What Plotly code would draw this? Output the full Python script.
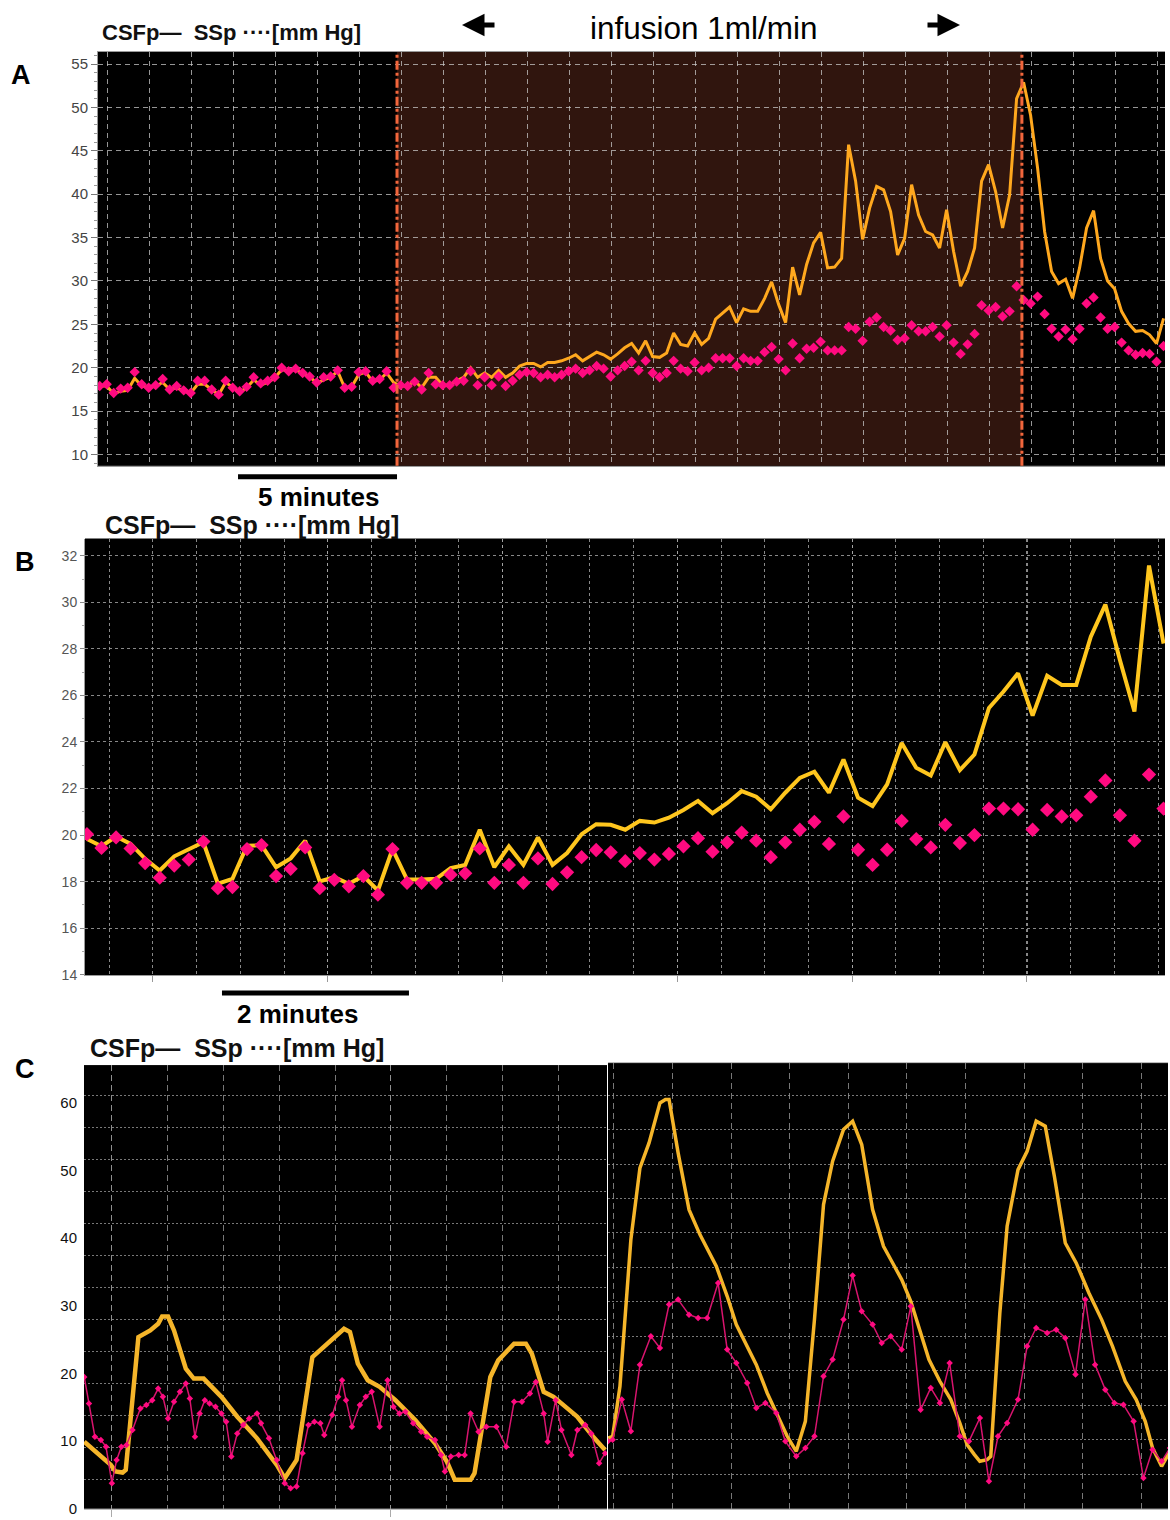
import numpy as np
import plotly.graph_objects as go

# ---------------- Panel A: recording with constant-rate infusion ----------------
A_SAMPLE_MIN = 0.2201          # minutes between stored samples
A_CSFP = [17.9, 17.9, 17.0, 17.3, 17.4, 18.8, 17.9, 17.7, 17.9, 18.3,
          17.5, 17.7, 17.3, 17.1, 18.1, 18.1, 17.5, 16.9, 18.3, 17.7,
          17.2, 17.7, 18.6, 18.0, 18.3, 18.8, 19.8, 19.6, 19.8, 19.3,
          19.0, 18.2, 18.6, 18.9, 19.6, 17.7, 17.8, 19.2, 19.5, 18.4,
          18.6, 19.4, 18.3,
          17.9, 17.9, 18.5, 17.7, 18.9, 18.9, 18.0, 18.0, 18.5, 18.9,
          20.0, 18.9, 19.4, 18.9, 19.7, 18.9, 19.4, 20.2, 20.5, 20.5,
          20.1, 20.6, 20.6, 20.8, 21.1, 21.5, 20.8, 21.3, 21.8, 21.5,
          21.0, 21.6, 22.3, 22.8, 21.7, 23.1, 21.3, 21.2, 21.7, 24.0,
          22.7, 22.5, 24.0, 22.7, 23.4, 25.6, 26.3, 27.0, 25.2, 26.8,
          26.5, 26.5, 28.0, 29.9, 27.3,
          25.2, 31.6, 28.4, 31.9, 34.4, 35.6, 31.5, 31.6, 32.6, 45.7,
          41.5, 34.8, 38.4, 40.9, 40.5, 38.0, 33.0, 34.9, 41.1, 37.6,
          35.7, 35.3, 33.8, 38.2, 33.4, 29.4, 31.1, 33.8, 41.5, 43.4,
          40.3, 36.1, 39.9, 51.0, 52.9, 49.1, 43.0, 35.7, 31.1, 29.7,
          30.2, 28.0, 31.5, 36.1, 38.1, 32.6, 30.0, 29.1, 26.5, 25.1,
          24.2, 24.3, 23.8, 22.8, 25.7]
A_SSP = [17.9, 18.1, 17.1, 17.6, 17.7, 19.5, 18.1, 17.7, 18.0, 18.7,
         17.5, 17.9, 17.4, 17.1, 18.5, 18.5, 17.5, 16.9, 18.5, 17.7,
         17.3, 17.8, 18.9, 18.2, 18.5, 18.9, 20.0, 19.6, 19.9, 19.4,
         19.0, 18.3, 18.9, 19.0, 19.7, 17.7, 17.8, 19.5, 19.6, 18.5,
         18.7, 19.6, 17.7,
         18.0, 17.9, 18.4, 17.5, 19.4, 18.1, 18.0, 18.0, 18.4, 18.5,
         19.6, 18.0, 18.9, 18.0, 19.0, 17.9, 18.5, 19.2, 19.5, 19.4,
         18.9, 19.2, 18.9, 19.2, 19.6, 19.9, 19.4, 19.7, 20.2, 19.9,
         19.0, 19.7, 20.2, 20.7, 19.7, 20.8, 19.4, 18.9, 19.4, 20.8,
         19.9, 19.6, 20.6, 19.7, 20.0, 21.1, 21.1, 21.1, 20.2, 21.1,
         20.8, 20.8, 21.8, 22.4, 21.0,
         19.7, 22.8, 21.1, 22.2, 22.3, 23.0, 22.0, 22.0, 22.0, 24.7,
         24.5, 23.1, 25.3, 25.8, 24.7, 24.3, 23.2, 23.4, 24.9, 24.2,
         24.2, 24.7, 23.6, 24.9, 22.9, 21.6, 22.7, 23.9, 27.2, 26.6,
         27.0, 25.9, 26.5, 29.4, 27.8, 27.4, 28.2, 26.2, 24.5, 23.6,
         24.4, 23.3, 24.5, 27.4, 28.1, 25.8, 24.5, 24.7, 22.9, 22.0,
         21.5, 21.7, 21.6, 20.7, 22.5]
A_INFUSION_START = 9.35        # min
A_INFUSION_END = 29.0          # min
A_SCALE_MIN = 5                # length of the scale bar, min

# ---------------- Panel B: early part of the infusion, zoomed ----------------
B_SAMPLE_MIN = 0.1556
B_CSFP = [19.83, 19.52, 19.94, 19.62, 18.98, 18.48, 19.09, 19.40, 19.69, 17.91,
          18.12, 19.54, 19.57, 18.62, 19.00, 19.76, 18.01, 18.19, 17.91, 18.24,
          17.62, 19.40, 18.09, 18.09, 18.12, 18.58, 18.72, 20.23, 18.62, 19.52,
          18.72, 19.90, 18.72, 19.23, 20.04, 20.47, 20.44, 20.23,
          20.61, 20.54, 20.75, 21.08, 21.47, 20.94, 21.37, 21.89, 21.65, 21.11,
          21.82, 22.46, 22.72, 21.82, 23.25, 21.61, 21.25, 22.18, 23.96, 22.89,
          22.56, 23.99, 22.79, 23.46, 25.46, 26.17, 26.95, 25.13, 26.84, 26.45,
          26.45, 28.52, 29.90, 27.52, 25.31, 31.58, 28.23]
B_SSP = [20.04, 19.45, 19.90, 19.43, 18.80, 18.17, 18.69, 18.95, 19.72, 17.72,
         17.77, 19.40, 19.57, 18.24, 18.55, 19.47, 17.72, 18.08, 17.80, 18.24,
         17.44, 19.40, 17.95, 17.95, 17.95, 18.30, 18.36, 19.43, 17.95, 18.72,
         17.95, 19.00, 17.90, 18.40, 19.05, 19.36, 19.26, 18.88,
         19.23, 18.95, 19.19, 19.52, 19.87, 19.29, 19.69, 20.11, 19.76, 19.05,
         19.69, 20.23, 20.57, 19.62, 20.80, 19.37, 18.72, 19.37, 20.61, 19.83,
         19.47, 20.44, 19.66, 20.00, 21.14, 21.14, 21.11, 20.23, 21.08, 20.80,
         20.85, 21.65, 22.35, 20.85, 19.76, 22.60, 21.14]
B_SCALE_START = 1.444          # min
B_SCALE_MIN = 2

# ---------------- Panel C: slow waves, two excerpts ----------------
C_LEFT_T_CSFP = [5.04, 7.66, 9.79, 10.64, 11.91, 12.48, 14.75, 16.87, 18.29, 19.0,
                 20.06, 21.13, 23.25, 24.67, 26.44, 29.63, 32.47, 36.01, 39.55, 40.97,
                 43.1, 45.93, 46.64, 48.77, 50.89, 51.6, 52.66, 54.08, 55.85, 57.98,
                 60.82, 64.36, 67.9, 70.03, 71.45, 74.28, 74.99, 77.82, 79.24, 81.37,
                 82.08, 84.2, 85.26, 87.39, 89.16, 92.0, 93.42, 96.25, 98.38]
C_LEFT_CSFP = [9.92, 7.95, 6.48, 5.5, 5.35, 5.74, 25.38, 26.36, 27.34, 28.42,
               28.42, 26.36, 20.72, 19.24, 19.24, 16.54, 13.6, 10.41, 6.48, 4.52,
               7.22, 22.43, 22.93, 24.64, 26.12, 26.61, 26.12, 21.45, 19.0, 18.02,
               16.05, 13.11, 9.67, 6.97, 4.27, 4.27, 5.25, 19.49, 21.94, 23.91,
               24.4, 24.4, 22.93, 17.28, 16.54, 14.58, 13.6, 10.65, 8.69]
C_LEFT_T_SSP = [5.04, 5.89, 6.95, 8.02, 8.94, 10.0, 10.85, 11.70, 12.62, 13.69,
                15.10, 16.17, 17.23, 18.29, 19.14, 20.06, 21.13, 22.19, 23.25, 23.96,
                24.88, 25.73, 26.65, 27.5, 28.57, 29.63, 30.48, 31.4, 32.47, 33.53,
                34.59, 36.01, 36.72, 38.14, 39.55, 40.97, 42.03, 43.1, 44.16, 45.22,
                46.29, 47.35, 48.06, 49.48, 50.54, 51.25, 51.96, 53.02, 54.44, 55.5,
                56.56, 57.98, 59.4, 60.46, 61.52, 62.59, 64.0, 65.42, 66.48, 67.9,
                68.97, 69.67, 70.74, 72.15, 73.22, 74.28, 75.7, 77.11, 78.89, 80.66,
                82.08, 83.49, 84.91, 85.97, 87.39, 88.1, 89.52, 90.58, 92.35, 93.42,
                94.83, 95.9, 97.32, 98.38]
C_LEFT_SSP = [19.49, 15.56, 10.65, 10.16, 9.18, 3.78, 7.22, 9.18, 9.43, 11.63,
              14.83, 15.32, 16.05, 17.77, 16.54, 13.35, 15.81, 17.28, 18.51, 16.3,
              10.65, 14.09, 16.05, 15.56, 15.07, 14.09, 12.86, 7.71, 11.14, 12.37,
              13.35, 14.09, 12.62, 10.41, 7.22, 3.78, 3.04, 3.29, 8.2, 12.37,
              12.86, 12.62, 10.9, 13.84, 16.54, 19.0, 16.05, 12.13, 15.32, 16.54,
              17.28, 12.13, 19.0, 15.07, 14.09, 14.33, 12.62, 11.39, 10.65, 10.16,
              7.95, 5.5, 7.71, 7.95, 7.95, 14.09, 11.39, 12.13, 12.13, 9.18,
              15.81, 15.81, 17.03, 18.75, 14.09, 9.92, 16.05, 11.63, 7.95, 11.63,
              12.37, 11.14, 6.73, 8.2]
C_RIGHT_T_CSFP = [-0.99, -0.19, 1.05, 2.91, 4.46, 6.01, 7.87, 8.8, 9.42, 10.97,
                  12.83, 14.69, 17.48, 19.34, 20.89, 22.44, 24.3, 26.16, 28.02, 29.57,
                  31.12, 32.67, 34.22, 35.77, 37.32, 39.18, 40.73, 42.28, 44.14, 46.0,
                  47.86, 49.1, 50.65, 52.2, 53.75, 55.61, 57.47, 59.02, 60.26, 61.5,
                  62.43, 63.67, 64.29, 65.84, 67.08, 68.94, 70.49, 72.04, 73.59, 75.14,
                  77.0, 78.86, 81.03, 83.2, 85.06, 87.23, 89.09, 90.64, 91.88, 93.43,
                  94.85]
C_RIGHT_CSFP = [10.41, 10.66, 18.02, 39.61, 50.17, 53.85, 59.74, 60.23, 60.23, 52.38,
                44.03, 40.35, 35.69, 31.27, 27.1, 24.4, 21.21, 17.04, 13.6, 10.66,
                8.45, 12.87, 27.84, 44.77, 51.16, 55.82, 57.05, 53.61, 44.03, 38.63,
                35.69, 33.73, 30.54, 26.36, 21.95, 18.76, 16.06, 12.62, 9.43, 7.96,
                6.98, 7.22, 7.71, 28.82, 41.58, 49.92, 52.62, 57.05, 56.31, 48.94,
                39.12, 36.18, 31.76, 27.84, 23.91, 18.76, 16.06, 12.87, 8.94, 6.24,
                8.45]
C_RIGHT_T_SSP = [-0.99, -0.19, 1.36, 2.91, 4.46, 6.32, 7.87, 9.42, 10.97, 12.83,
                 14.38, 15.93, 17.79, 19.34, 20.89, 22.75, 24.3, 25.85, 27.71, 29.26,
                 31.12, 32.67, 34.22, 35.77, 37.32, 39.18, 40.73, 42.28, 44.14, 45.69,
                 47.24, 49.1, 50.65, 52.33, 54.06, 55.61, 57.28, 59.02, 60.57, 62.43,
                 63.98, 65.53, 67.08, 68.94, 70.49, 72.04, 73.9, 75.45, 77.0, 78.74,
                 80.41, 82.08, 83.82, 85.37, 86.92, 88.66, 90.33, 91.88, 93.43, 94.85]
C_RIGHT_SSP = [9.92, 10.17, 16.06, 11.4, 21.21, 25.38, 23.66, 30.05, 30.78, 28.57,
               28.08, 28.08, 33.24, 23.42, 21.46, 18.51, 14.83, 15.57, 14.1, 9.92,
               7.71, 8.94, 10.66, 19.5, 21.95, 27.84, 34.32, 29.07, 27.1, 24.4,
               25.38, 23.42, 29.8, 14.58, 17.78, 15.57, 21.46, 10.66, 9.92, 13.36,
               4.03, 10.66, 12.62, 16.06, 23.91, 26.61, 25.88, 26.36, 25.14, 19.74,
               30.78, 21.21, 17.53, 15.57, 15.32, 12.87, 4.52, 8.69, 6.98, 8.94]

HEADER = "<b>CSFp\u2014  SSp \u00b7\u00b7\u00b7\u00b7[mm Hg]</b>"

W, H = 1170, 1520


def px(x):
    return x / W


def py(y):
    return 1 - y / H


NARROW = "Liberation Sans Narrow, Arial Narrow, Liberation Sans, Arial, sans-serif"
SANS = "Liberation Sans, Arial, sans-serif"

ORANGE_A = "#ffa81e"
YELLOW_B = "#ffc61e"
YELLOW_C = "#f5b52a"
PINK = "#ff0a80"

tA = np.arange(len(A_CSFP)) * A_SAMPLE_MIN
tB = np.arange(len(B_CSFP)) * B_SAMPLE_MIN

fig = go.Figure()

# Panel A traces
fig.add_trace(go.Scatter(x=tA, y=A_CSFP, mode="lines", name="CSFp",
                         line=dict(color=ORANGE_A, width=3), xaxis="x", yaxis="y"))
fig.add_trace(go.Scatter(x=tA, y=A_SSP, mode="markers", name="SSp",
                         marker=dict(symbol="diamond", size=8, color=PINK),
                         xaxis="x", yaxis="y"))
# Panel B traces
fig.add_trace(go.Scatter(x=tB, y=B_CSFP, mode="lines", name="CSFp",
                         line=dict(color=YELLOW_B, width=4), xaxis="x2", yaxis="y2"))
fig.add_trace(go.Scatter(x=tB, y=B_SSP, mode="markers", name="SSp",
                         marker=dict(symbol="diamond", size=11, color=PINK),
                         xaxis="x2", yaxis="y2"))
# Panel C traces
fig.add_trace(go.Scatter(x=C_LEFT_T_CSFP, y=C_LEFT_CSFP, mode="lines",
                         line=dict(color=YELLOW_C, width=4.5), xaxis="x3", yaxis="y3"))
fig.add_trace(go.Scatter(x=C_LEFT_T_SSP, y=C_LEFT_SSP, mode="lines+markers",
                         line=dict(color="#d8146e", width=1.5),
                         marker=dict(symbol="diamond", size=5, color=PINK),
                         xaxis="x3", yaxis="y3"))
fig.add_trace(go.Scatter(x=C_RIGHT_T_CSFP, y=C_RIGHT_CSFP, mode="lines",
                         line=dict(color=YELLOW_C, width=3.5), xaxis="x4", yaxis="y4"))
fig.add_trace(go.Scatter(x=C_RIGHT_T_SSP, y=C_RIGHT_SSP, mode="lines+markers",
                         line=dict(color="#d8146e", width=1.5),
                         marker=dict(symbol="diamond", size=5, color=PINK),
                         xaxis="x4", yaxis="y4"))

GRID_A = "rgba(200,200,200,0.75)"
GRID_B = "rgba(170,170,170,0.8)"
GRID_C = "rgba(150,150,150,0.8)"

layout = dict(
    width=W, height=H,
    margin=dict(l=0, r=0, t=0, b=0),
    paper_bgcolor="white",
    plot_bgcolor="black",
    showlegend=False,
    # ---- A ----
    xaxis=dict(domain=[px(98), px(1165)], range=[-0.053, 33.5], anchor="y",
               tick0=0.23, dtick=1.321, showticklabels=False, ticks="",
               showgrid=True, gridcolor=GRID_A, griddash="5px,4px", gridwidth=1,
               zeroline=False, showline=True, linecolor="#9a9a9a", mirror=True),
    yaxis=dict(domain=[py(468), py(52)], range=[8.70, 56.41], anchor="x",
               tick0=10, dtick=5, showgrid=True, gridcolor=GRID_A,
               griddash="5px,4px", gridwidth=1, zeroline=False,
               showline=True, linecolor="#9a9a9a", ticks="outside", ticklen=6,
               tickcolor="#777", tickfont=dict(family=NARROW, size=15, color="#444"),
               minor=dict(dtick=1, ticks="outside", ticklen=3, tickcolor="#999")),
    # ---- B ----
    xaxis2=dict(domain=[px(85), px(1165)], range=[-0.021, 11.53], anchor="y2",
                tick0=0.706, dtick=1.8695, showticklabels=False,
                ticks="outside", ticklen=6, tickcolor="#999",
                showgrid=True, gridcolor=GRID_B, griddash="3px,3px",
                minor=dict(tick0=0.2386, dtick=0.4674, showgrid=True,
                           gridcolor=GRID_B, griddash="3px,3px", ticklen=0),
                zeroline=False, showline=True, linecolor="#9a9a9a"),
    yaxis2=dict(domain=[py(980), py(541)], range=[13.97, 32.74], anchor="x2",
                tick0=14, dtick=2, showgrid=True, gridcolor=GRID_B,
                griddash="3px,3px", zeroline=False,
                showline=True, linecolor="#9a9a9a", ticks="outside", ticklen=4,
                tickcolor="#888", tickfont=dict(family=NARROW, size=14, color="#555"),
                minor=dict(dtick=1, ticks="outside", ticklen=2, tickcolor="#aaa")),
    # ---- C left ----
    xaxis3=dict(domain=[px(84), px(607)], range=[5.0, 98.73], anchor="y3",
                tickvals=[10, 60], showticklabels=False,
                ticks="outside", ticklen=7, tickcolor="#aaa",
                showgrid=True, gridcolor=GRID_C, griddash="6px,4px",
                minor=dict(tick0=0, dtick=10, showgrid=True, gridcolor=GRID_C,
                           griddash="6px,4px", ticklen=0),
                zeroline=False, showline=True, linecolor="#bbbbbb"),
    yaxis3=dict(domain=[py(1515.7), py(1070)], range=[0, 65.6], anchor="x3",
                tick0=0, dtick=10, showgrid=False, zeroline=False,
                ticks="", ticklabelstandoff=6,
                tickfont=dict(family=SANS, size=15, color="#111"),
                minor=dict(tick0=4.27, dtick=4.733, showgrid=True,
                           gridcolor=GRID_C, griddash="2px,2px", ticklen=0)),
    # ---- C right ----
    xaxis4=dict(domain=[px(608), px(1168)], range=[-0.99, 94.52], anchor="y4",
                tick0=0, dtick=10, showticklabels=False, ticks="",
                showgrid=True, gridcolor=GRID_C, griddash="6px,4px",
                zeroline=False, showline=True, linecolor="#bbbbbb", mirror=True),
    yaxis4=dict(domain=[py(1515.7), py(1068)], range=[0, 65.6], anchor="x4",
                showticklabels=False, ticks="", showgrid=False, zeroline=False,
                minor=dict(tick0=5.1, dtick=5.071, showgrid=True,
                           gridcolor=GRID_C, griddash="2px,2px", ticklen=0)),
)
fig.update_layout(**layout)

shapes = [
    # infusion period shading (under the grid)
    dict(type="rect", xref="x", yref="y domain", x0=A_INFUSION_START, x1=A_INFUSION_END,
         y0=0, y1=1, fillcolor="#30150e", line=dict(width=0), layer="below"),
    dict(type="line", xref="x", yref="y domain", x0=A_INFUSION_START, x1=A_INFUSION_START,
         y0=0, y1=1, line=dict(color="#f2663c", width=3, dash="dashdot")),
    dict(type="line", xref="x", yref="y domain", x0=A_INFUSION_END, x1=A_INFUSION_END,
         y0=0, y1=1, line=dict(color="#f2663c", width=3, dash="dashdot")),
    # time scale bars
    dict(type="line", xref="x", yref="paper",
         x0=A_INFUSION_START - A_SCALE_MIN, x1=A_INFUSION_START,
         y0=py(479), y1=py(479), line=dict(color="black", width=5)),
    dict(type="line", xref="x2", yref="paper",
         x0=B_SCALE_START, x1=B_SCALE_START + B_SCALE_MIN,
         y0=py(997.5), y1=py(997.5), line=dict(color="black", width=5)),
]
fig.update_layout(shapes=shapes)

annotations = [
    dict(text=HEADER, x=px(100), y=py(33), xanchor="left", yanchor="middle",
         font=dict(family=SANS, size=22, color="#111")),
    dict(text=HEADER, x=px(103), y=py(527), xanchor="left", yanchor="middle",
         font=dict(family=SANS, size=25, color="#111")),
    dict(text=HEADER, x=px(88), y=py(1053), xanchor="left", yanchor="middle",
         font=dict(family=SANS, size=25, color="#111")),
    dict(text="<b>A</b>", x=px(21), y=py(75), xanchor="center", yanchor="middle",
         font=dict(family=SANS, size=27, color="black")),
    dict(text="<b>B</b>", x=px(25), y=py(565), xanchor="center", yanchor="middle",
         font=dict(family=SANS, size=27, color="black")),
    dict(text="<b>C</b>", x=px(25), y=py(1074), xanchor="center", yanchor="middle",
         font=dict(family=SANS, size=27, color="black")),
    dict(text="infusion 1ml/min", x=px(704), y=py(28), xanchor="center", yanchor="middle",
         font=dict(family=SANS, size=31.5, color="black")),
    dict(text=f"<b>{A_SCALE_MIN} minutes</b>", x=px(319), y=py(499),
         xanchor="center", yanchor="middle",
         font=dict(family=SANS, size=26, color="black")),
    dict(text=f"<b>{B_SCALE_MIN} minutes</b>", x=px(297), y=py(1019),
         xanchor="center", yanchor="middle",
         font=dict(family=SANS, size=26, color="black")),
]
for a in annotations:
    a.update(xref="paper", yref="paper", showarrow=False)

# infusion arrows
annotations += [
    dict(x=px(462), y=py(25), xref="paper", yref="paper", ax=34, ay=0, text="",
         showarrow=True, arrowhead=2, arrowsize=0.9, arrowwidth=5, arrowcolor="black"),
    dict(x=px(960), y=py(25), xref="paper", yref="paper", ax=-34, ay=0, text="",
         showarrow=True, arrowhead=2, arrowsize=0.9, arrowwidth=5, arrowcolor="black"),
]
fig.update_layout(annotations=annotations)

fig.write_html("out.html")
